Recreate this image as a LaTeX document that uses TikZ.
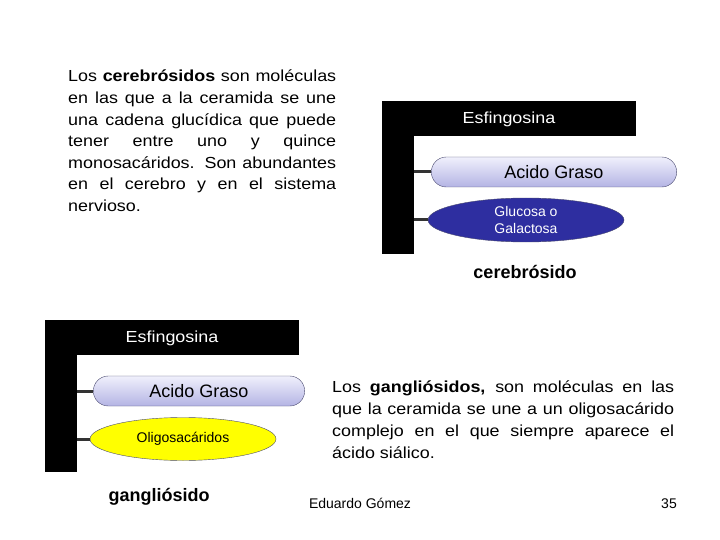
\documentclass[tikz,border=0pt]{standalone}
\usepackage{fontspec}
\setmainfont{Liberation Sans}
\newfontfamily\widefont[FakeStretch=1.12]{Liberation Sans}
\usetikzlibrary{shapes.geometric,shapes.misc,positioning}

\definecolor{pillTop}{HTML}{F0F0FC}
\definecolor{pillBot}{HTML}{B4B4E4}
\definecolor{pillLine}{HTML}{4A4A70}
\definecolor{navyEll}{HTML}{2E2EA0}
\definecolor{yellowEll}{HTML}{FFFF00}

\begin{document}
\begin{tikzpicture}[x=1pt,y=-1pt,
    bodytext/.style={text width=268pt, align=justify, inner sep=0pt, font=\widefont\fontsize{16}{21.6}\selectfont},
    acid/.style={rounded rectangle, draw=pillLine, top color=pillTop, bottom color=pillBot, minimum height=30pt, font=\fontsize{18}{20}\selectfont},
    sugar/.style={ellipse, draw=pillLine, inner sep=0pt, align=left},
    esf/.style={text=white, font=\widefont\fontsize{16}{18}\selectfont},
    bond/.style={line width=3pt, draw=black!80},
    label/.style={font=\bfseries\fontsize{18}{20}\selectfont},
    foot/.style={anchor=base, inner sep=0pt, font=\fontsize{14}{16}\selectfont}
]
    \useasboundingbox (0,0) rectangle (720,540);

    % Texto superior
    \node[bodytext, anchor=base west] (txtcer) at (68,82)
        {Los \textbf{cerebrósidos} son moléculas\linebreak
         en las que a la ceramida se une\linebreak
         una cadena glucídica que puede\linebreak
         tener entre uno y quince\linebreak
         monosacáridos. Son abundantes\linebreak
         en el cerebro y en el sistema\linebreak
         nervioso.};

    % Cerebrosido
    \fill (382,101) rectangle (636,136);
    \fill (382,101) rectangle (414,254);
    \node[esf] (esfA) at (509,119) {Esfingosina};
    \node[acid, minimum width=252pt] (acidA) at (554,172) {Acido Graso};
    \node[sugar, fill=navyEll, text=white, minimum width=196pt, minimum height=44pt,
          font=\fontsize{14}{17}\selectfont] (gluA) at (526,220) {Glucosa o\\Galactosa};
    \coordinate (barA1) at (414,172);
    \coordinate (barA2) at (414,220);
    \draw[bond] (barA1) -- (acidA.west);
    \draw[bond] (barA2) -- (gluA.west);
    \node[label] (cer) at (525,272) {cerebrósido};

    % Gangliosido
    \fill (45,320) rectangle (299,355);
    \fill (45,320) rectangle (77,472);
    \node[esf] (esfB) at (172,338) {Esfingosina};
    \node[acid, minimum width=218pt] (acidB) at (199,391) {Acido Graso};
    \node[sugar, fill=yellowEll, minimum width=186pt, minimum height=43pt,
          font=\fontsize{14}{16}\selectfont] (oliB) at (183,439) {Oligosacáridos};
    \coordinate (barB1) at (77,391);
    \coordinate (barB2) at (77,439);
    \draw[bond] (barB1) -- (acidB.west);
    \draw[bond] (barB2) -- (oliB.west);
    \node[label] (gan) at (159,497) {gangliósido};

    % Texto inferior
    \node[bodytext, text width=342pt, font=\widefont\fontsize{16}{22}\selectfont, anchor=base west] (txtgan) at (332,392)
        {Los \textbf{gangliósidos,} son moléculas en las\linebreak
         que la ceramida se une a un oligosacárido\linebreak
         complejo en el que siempre aparece el\linebreak
         ácido siálico.};

    % Pie
    \node[foot] (autor) at (360,508) {Eduardo Gómez};
    \node[foot] (pagina) at (669,508) {35};
\end{tikzpicture}
\end{document}
